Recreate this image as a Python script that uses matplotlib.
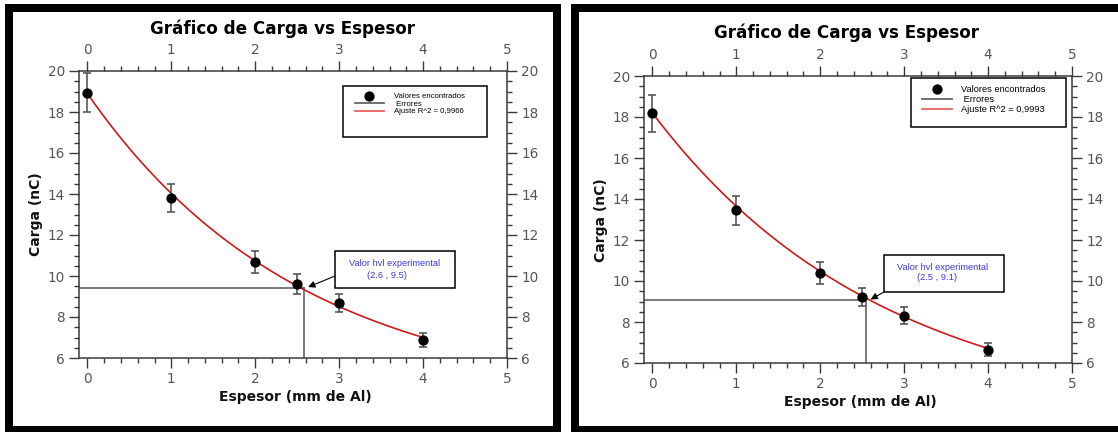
import numpy as np
import matplotlib
matplotlib.use("Agg")
import matplotlib.pyplot as plt
from matplotlib.patches import Rectangle
from matplotlib.lines import Line2D
from matplotlib.ticker import MultipleLocator

# ---------------- data ----------------
espesor = [0, 1, 2, 2.5, 3, 4]

carga_left = [18.95, 13.8, 10.67, 9.62, 8.7, 6.88]
err_left = [0.95, 0.68, 0.53, 0.50, 0.44, 0.36]
fit_left = [15.03, 0.392, 3.87]          # a, b, c  of  a*exp(-b x) + c
hvl_left = [2.58, 9.42]                  # guide lines (x, y)
tip_left = [2.63, 9.46]
r2_left = "0,9966"
hvl_text_left = "(2.6 , 9.5)"

carga_right = [18.18, 13.44, 10.39, 9.22, 8.31, 6.65]
err_right = [0.90, 0.69, 0.52, 0.45, 0.41, 0.33]
fit_right = [15.05, 0.3604, 3.15]
hvl_right = [2.55, 9.09]
tip_right = [2.60, 9.10]
r2_right = "0,9993"
hvl_text_right = "(2.5 , 9.1)"

title = "Gráfico de Carga vs Espesor"
xlabel = "Espesor (mm de Al)"
ylabel = "Carga (nC)"
legend_labels = ["Valores encontrados", " Errores", "Ajuste R^2 = "]
hvl_label = "Valor hvl experimental"

# ---------------- layout helpers ----------------
W, H = 1118, 432
fig = plt.figure(figsize=(W / 100, H / 100), dpi=100)
fig.patch.set_facecolor("white")


def fx(x):
    return x / W


def fy(y):
    return 1 - y / H


def rect_px(x0, y0, x1, y1):
    return [x0 / W, 1 - y1 / H, (x1 - x0) / W, (y1 - y0) / H]


def fig_rect(x0, y0, x1, y1, **kw):
    r = Rectangle((fx(x0), fy(y1)), (x1 - x0) / W, (y1 - y0) / H,
                  transform=fig.transFigure, **kw)
    fig.add_artist(r)
    return r


# panel frames
fig_rect(5, 4, 561, 432, facecolor="black", edgecolor="none", zorder=-3)
fig_rect(13, 12, 553, 426, facecolor="white", edgecolor="none", zorder=-2)
fig_rect(571, 4, 1118, 432, facecolor="black", edgecolor="none", zorder=-3)
fig_rect(579, 12, 1118, 426, facecolor="white", edgecolor="none", zorder=-2)

SPINE = "#3a3a3a"
TICKC = "#555555"
FITC = "#cc1a1a"
LEGRED = "#e86060"
ERRC = "#4a4a4a"
BLUE = "#3a3ae0"
NARROW = ["Liberation Sans", "DejaVu Sans"]


def panel(ax_rect, carga, err, fit, hvl, tip, r2, hvl_text, cfg):
    ax = fig.add_axes(rect_px(*ax_rect))
    ax.set_xlim(-0.1, 5)
    ax.set_ylim(6, 20)
    ax.xaxis.set_major_locator(MultipleLocator(1))
    ax.xaxis.set_minor_locator(MultipleLocator(0.2))
    ax.yaxis.set_major_locator(MultipleLocator(2))
    ax.yaxis.set_minor_locator(MultipleLocator(0.5))
    for s in ax.spines.values():
        s.set_color(SPINE)
        s.set_linewidth(1.1)
    ax.tick_params(which="both", direction="out", top=True, right=True,
                   labeltop=True, labelright=True, color=SPINE,
                   labelcolor=TICKC, labelsize=9.8, width=1.0)
    ax.tick_params(which="major", length=7.2, pad=3.0)
    ax.tick_params(which="minor", length=3.8)

    # hvl guide lines
    ax.plot([-0.1, hvl[0]], [hvl[1], hvl[1]], color="#555555", lw=1.1, zorder=2)
    ax.plot([hvl[0], hvl[0]], [6, hvl[1]], color="#555555", lw=1.1, zorder=2)

    # fit curve
    xs = np.linspace(espesor[0], espesor[-1], 300)
    a, b, c = fit
    ax.plot(xs, a * np.exp(-b * xs) + c, color=FITC, lw=1.2, zorder=3)

    # error bars and points
    ax.errorbar(espesor, carga, yerr=err, fmt="none", ecolor=ERRC,
                elinewidth=1.1, capsize=2.6, capthick=1.1, zorder=4)
    ax.plot(espesor, carga, "o", color="black", ms=6.4, zorder=5)

    # annotation arrow
    ax.annotate("", xy=(tip[0], tip[1]), xycoords="data",
                xytext=(fx(cfg["arrow_from"][0]), fy(cfg["arrow_from"][1])),
                textcoords="figure fraction",
                arrowprops=dict(arrowstyle="-|>", color="black", lw=0.8,
                                mutation_scale=10, shrinkA=0, shrinkB=0),
                zorder=6)

    # annotation box and text
    bx = cfg["ann_box"]
    fig_rect(*bx, facecolor="white", edgecolor="black", lw=1.1, zorder=5)
    t1, t2 = cfg["ann_text"]
    fig.text(fx(t1[0]), fy(t1[1]), hvl_label, color=BLUE, ha="center",
             va="center", fontsize=cfg["ann_fs"], family=NARROW, zorder=6)
    fig.text(fx(t2[0]), fy(t2[1]), hvl_text, color=BLUE, ha="center",
             va="center", fontsize=cfg["ann_fs"], family=NARROW, zorder=6)

    # legend box + legend
    fig_rect(*cfg["leg_box"], facecolor="white", edgecolor="black", lw=1.1,
             zorder=5)
    handles = [
        Line2D([], [], marker="o", color="black", ls="none", ms=6.4),
        Line2D([], [], color="#666666", lw=1.3),
        Line2D([], [], color=LEGRED, lw=1.3),
    ]
    labels = [legend_labels[0], legend_labels[1], legend_labels[2] + r2]
    fs = cfg["leg_fs"]
    leg = fig.legend(handles, labels, loc="upper left",
                     bbox_to_anchor=(fx(cfg["leg_anchor"][0]), fy(cfg["leg_anchor"][1])),
                     bbox_transform=fig.transFigure, frameon=False,
                     borderpad=0, borderaxespad=0,
                     handlelength=cfg["hl"], handletextpad=cfg["htp"],
                     labelspacing=cfg["ls"],
                     prop={"family": NARROW, "size": fs})
    leg.set_zorder(7)

    # titles / labels
    fig.text(fx(cfg["title"][0]), fy(cfg["title"][1]), title, ha="center",
             va="center", fontsize=12.1, fontweight="bold", color="black")
    fig.text(fx(cfg["xlabel"][0]), fy(cfg["xlabel"][1]), xlabel, ha="center",
             va="center", fontsize=10, fontweight="bold", color="#111111")
    fig.text(fx(cfg["ylabel"][0]), fy(cfg["ylabel"][1]), ylabel, ha="center",
             va="center", fontsize=10, fontweight="bold", color="#111111",
             rotation=90)
    return ax


panel((79, 71, 507, 358), carga_left, err_left, fit_left, hvl_left, tip_left,
      r2_left, hvl_text_left,
      dict(arrow_from=(335, 276), ann_box=(335, 251, 455, 288),
           ann_text=((395, 263), (387, 275)), ann_fs=6.7,
           leg_box=(343, 86, 487, 137), leg_anchor=(355, 93), leg_fs=5.6,
           hl=3.7, htp=1.3, ls=0.0,
           title=(282, 29), xlabel=(295, 397), ylabel=(36, 214)))

panel((644, 76, 1072, 363), carga_right, err_right, fit_right, hvl_right,
      tip_right, r2_right, hvl_text_right,
      dict(arrow_from=(884, 292), ann_box=(884, 255, 1004, 292),
           ann_text=((943, 267), (937, 278)), ann_fs=6.7,
           leg_box=(911, 78, 1066, 127), leg_anchor=(922, 85), leg_fs=6.7,
           hl=3.2, htp=1.0, ls=0.1,
           title=(847, 33), xlabel=(860, 402), ylabel=(601, 220)))

fig.savefig("out.png", dpi=100)
